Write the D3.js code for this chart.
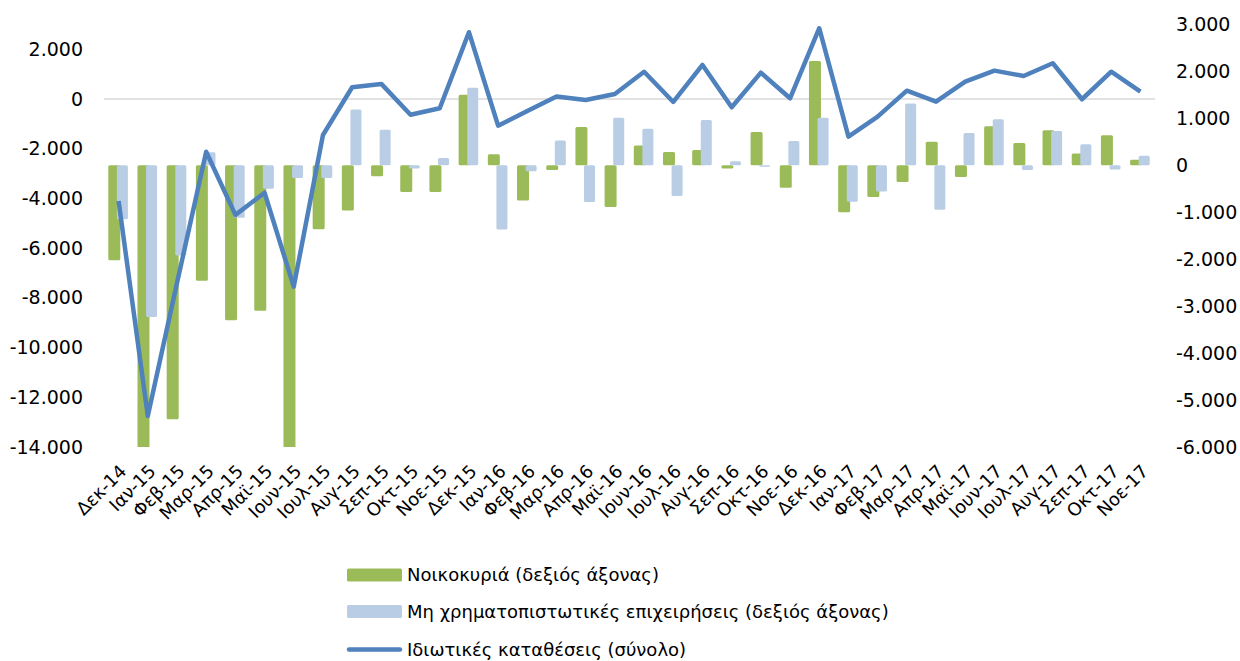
<!DOCTYPE html>
<html>
<head>
<meta charset="utf-8">
<script src="https://cdnjs.cloudflare.com/ajax/libs/d3/7.8.5/d3.min.js"></script>
<style>
  body { margin: 0; background: #fff; }
  svg text { font-family: "DejaVu Sans", Tahoma, sans-serif; fill: #000; }
</style>
</head>
<body>
<svg width="1240" height="661"></svg>
<script>
// months on the x axis
var categories = ["Δεκ-14","Ιαν-15","Φεβ-15","Μαρ-15","Απρ-15","Μαϊ-15","Ιουν-15","Ιουλ-15","Αυγ-15","Σεπ-15","Οκτ-15","Νοε-15",
  "Δεκ-15","Ιαν-16","Φεβ-16","Μαρ-16","Απρ-16","Μαϊ-16","Ιουν-16","Ιουλ-16","Αυγ-16","Σεπ-16","Οκτ-16","Νοε-16",
  "Δεκ-16","Ιαν-17","Φεβ-17","Μαρ-17","Απρ-17","Μαϊ-17","Ιουν-17","Ιουλ-17","Αυγ-17","Σεπ-17","Οκτ-17","Νοε-17"];

// right axis (bars)
var households = [-2020,-8000,-5410,-2460,-3300,-3100,-6900,-1360,-960,-230,-570,-570,
  1505,235,-750,-100,815,-890,425,285,325,-70,710,-475,
  2220,-1000,-675,-355,500,-250,835,475,750,250,640,120];
var businesses = [-1150,-3230,-1920,280,-1115,-500,-270,-270,1190,760,-70,155,
  1655,-1365,-125,530,-780,1015,780,-655,965,85,-30,520,
  1015,-775,-555,1315,-945,690,980,-100,730,450,-90,205];

// left axis (line)
var total = [-4100,-12750,-7400,-2120,-4660,-3770,-7550,-1445,475,610,-630,-370,
  2690,-1070,-480,100,-40,205,1100,-117,1372,-330,1062,30,
  2850,-1513,-708,338,-105,700,1143,930,1440,-8,1100,300];

var leftTicks = d3.range(-14000, 2001, 2000);
var rightTicks = d3.range(-6000, 3001, 1000);

var legendNames = ["Νοικοκυριά (δεξιός άξονας)",
  "Μη χρηματοπιστωτικές επιχειρήσεις (δεξιός άξονας)",
  "Ιδιωτικές καταθέσεις (σύνολο)"];

var green = "#9bbb59", lightBlue = "#b9cde5", blue = "#4f81bd";

var svg = d3.select("svg");
var plotTop = 24.5, plotBottom = 447, plotLeft = 104, plotRight = 1155;

var locale = d3.formatLocale({decimal: ",", thousands: ".", grouping: [3], currency: ["", "€"], minus: "-"});
var fmt = locale.format(",d");

var x = d3.scaleBand().domain(categories).range([plotLeft, plotRight]).paddingInner(0).paddingOuter(0);
var yL = d3.scaleLinear().domain([-14000, 3000]).range([plotBottom, plotTop]);
var yR = d3.scaleLinear().domain([-6000, 3000]).range([plotBottom, plotTop]);
var bw = x.bandwidth();
var cx = function(c) { return x(c) + bw / 2; };

svg.append("defs").append("clipPath").attr("id", "plot")
  .append("rect").attr("x", plotLeft).attr("y", plotTop)
  .attr("width", plotRight - plotLeft).attr("height", plotBottom - plotTop);

// zero gridline on the left axis
svg.append("line")
  .attr("x1", plotLeft).attr("x2", plotRight)
  .attr("y1", yL(0)).attr("y2", yL(0))
  .attr("stroke", "#d9d9d9").attr("stroke-width", 1.5);

var barW = 12, off = 4.3;
var bars = svg.append("g").attr("clip-path", "url(#plot)");

bars.selectAll(".hh").data(households).enter()
  .append("rect").attr("class", "hh")
  .attr("x", function(d, i) { return cx(categories[i]) - off - barW / 2; })
  .attr("width", barW)
  .attr("y", function(d) { return yR(Math.max(0, d)); })
  .attr("height", function(d) { return Math.abs(yR(d) - yR(0)); })
  .attr("rx", 1.5)
  .attr("fill", green);

bars.selectAll(".nf").data(businesses).enter()
  .append("rect").attr("class", "nf")
  .attr("x", function(d, i) { return cx(categories[i]) + off - barW / 2; })
  .attr("width", barW - 1)
  .attr("y", function(d) { return yR(Math.max(0, d)); })
  .attr("height", function(d) { return Math.abs(yR(d) - yR(0)); })
  .attr("rx", 1.5)
  .attr("fill", lightBlue);

var line = d3.line()
  .x(function(d, i) { return cx(categories[i]); })
  .y(function(d) { return yL(d); });

svg.append("path").datum(total)
  .attr("d", line)
  .attr("fill", "none")
  .attr("stroke", blue)
  .attr("stroke-width", 4.5)
  .attr("stroke-linejoin", "round");

// axes
var axL = svg.append("g").attr("transform", "translate(" + (plotLeft - 21) + ",0)")
  .call(d3.axisLeft(yL).tickValues(leftTicks).tickFormat(fmt).tickSize(0).tickPadding(0));
var axR = svg.append("g").attr("transform", "translate(" + (plotRight + 21) + ",0)")
  .call(d3.axisRight(yR).tickValues(rightTicks).tickFormat(fmt).tickSize(0).tickPadding(0));
[axL, axR].forEach(function(a) {
  a.select(".domain").remove();
  a.attr("font-family", null).attr("font-size", null);
  a.selectAll("text").style("font-size", "19px");
});

var axX = svg.append("g");
axX.selectAll("text").data(categories).enter()
  .append("text")
  .attr("transform", function(d) { return "translate(" + (cx(d) + 4.5) + ",468) rotate(-45)"; })
  .attr("text-anchor", "end")
  .attr("dy", "0.35em")
  .style("font-size", "18px")
  .text(function(d) { return d; });

// legend
var leg = svg.append("g");
var rows = [575, 611.5, 649.5];
leg.append("rect").attr("x", 347).attr("y", rows[0] - 6.5).attr("width", 55).attr("height", 13).attr("rx", 1.5).attr("fill", green);
leg.append("rect").attr("x", 347).attr("y", rows[1] - 6.5).attr("width", 55).attr("height", 13).attr("rx", 1.5).attr("fill", lightBlue);
leg.append("line").attr("x1", 349).attr("x2", 400).attr("y1", rows[2]).attr("y2", rows[2])
  .attr("stroke", blue).attr("stroke-width", 4.5).attr("stroke-linecap", "round");
leg.selectAll("text").data(legendNames).enter()
  .append("text")
  .attr("x", 407)
  .attr("y", function(d, i) { return rows[i]; })
  .attr("dy", "0.35em")
  .style("font-size", "18px")
  .text(function(d) { return d; });
</script>
</body>
</html>
